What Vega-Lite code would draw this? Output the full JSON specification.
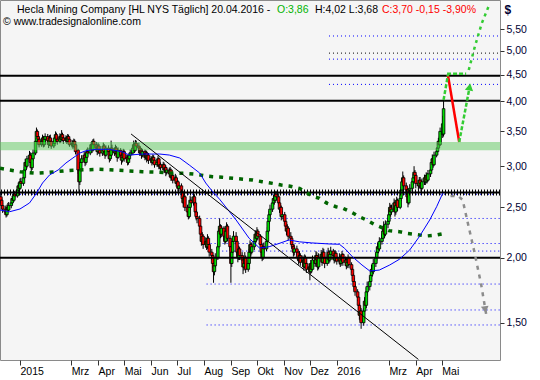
{
"$schema":"https://vega.github.io/schema/vega-lite/v6.json",
"width":500,"height":360,
"autosize":{"type":"none"},
"padding":{"left":0,"top":0,"right":40,"bottom":20},
"background":"white",
"config":{"view":{"fill":"#f5f5f5","stroke":"#8a8a8a","strokeWidth":1},"axis":{"labelOverlap":false,"labelSeparation":0},"scale":{"continuousPadding":0}},
"datasets":{
"k":[
{"d":"2014-12-10","o":2.62,"h":2.67,"l":2.55,"c":2.58},{"d":"2014-12-11","o":2.58,"h":2.61,"l":2.48,"c":2.52},{"d":"2014-12-12","o":2.52,"h":2.55,"l":2.44,"c":2.48},
{"d":"2014-12-15","o":2.48,"h":2.52,"l":2.42,"c":2.45},{"d":"2014-12-16","o":2.45,"h":2.48,"l":2.39,"c":2.42},{"d":"2014-12-17","o":2.42,"h":2.53,"l":2.40,"c":2.50},{"d":"2014-12-18","o":2.50,"h":2.55,"l":2.44,"c":2.47},{"d":"2014-12-19","o":2.47,"h":2.56,"l":2.45,"c":2.52},
{"d":"2014-12-22","o":2.52,"h":2.59,"l":2.49,"c":2.55},{"d":"2014-12-23","o":2.55,"h":2.63,"l":2.52,"c":2.60},{"d":"2014-12-24","o":2.60,"h":2.64,"l":2.55,"c":2.58},{"d":"2014-12-25","o":2.58,"h":2.68,"l":2.56,"c":2.65},{"d":"2014-12-26","o":2.65,"h":2.69,"l":2.60,"c":2.63},
{"d":"2014-12-29","o":2.63,"h":2.74,"l":2.61,"c":2.70},{"d":"2014-12-30","o":2.70,"h":2.79,"l":2.67,"c":2.75},{"d":"2014-12-31","o":2.75,"h":2.78,"l":2.68,"c":2.72},{"d":"2015-01-01","o":2.72,"h":2.84,"l":2.70,"c":2.80},{"d":"2015-01-02","o":2.80,"h":2.85,"l":2.74,"c":2.78},
{"d":"2015-01-05","o":2.78,"h":2.90,"l":2.75,"c":2.85},{"d":"2015-01-06","o":2.85,"h":2.99,"l":2.82,"c":2.95},{"d":"2015-01-07","o":2.95,"h":3.10,"l":2.92,"c":3.05},{"d":"2015-01-08","o":3.05,"h":3.09,"l":2.95,"c":3.00},{"d":"2015-01-09","o":3.00,"h":3.14,"l":2.97,"c":3.10},
{"d":"2015-01-12","o":3.10,"h":3.21,"l":3.06,"c":3.15},{"d":"2015-01-13","o":3.15,"h":3.19,"l":3.01,"c":3.05},{"d":"2015-01-14","o":3.05,"h":3.08,"l":2.92,"c":2.98},{"d":"2015-01-15","o":2.98,"h":3.14,"l":2.95,"c":3.10},{"d":"2015-01-16","o":3.10,"h":3.23,"l":3.07,"c":3.18},
{"d":"2015-01-19","o":3.18,"h":3.40,"l":3.15,"c":3.35},{"d":"2015-01-20","o":3.35,"h":3.56,"l":3.32,"c":3.50},{"d":"2015-01-21","o":3.50,"h":3.53,"l":3.38,"c":3.42},{"d":"2015-01-22","o":3.42,"h":3.47,"l":3.33,"c":3.38},{"d":"2015-01-23","o":3.38,"h":3.42,"l":3.26,"c":3.30},
{"d":"2015-01-26","o":3.30,"h":3.40,"l":3.27,"c":3.35},{"d":"2015-01-27","o":3.35,"h":3.45,"l":3.31,"c":3.40},{"d":"2015-01-28","o":3.40,"h":3.43,"l":3.26,"c":3.30},{"d":"2015-01-29","o":3.30,"h":3.42,"l":3.27,"c":3.38},{"d":"2015-01-30","o":3.38,"h":3.47,"l":3.34,"c":3.42},
{"d":"2015-02-02","o":3.42,"h":3.46,"l":3.32,"c":3.36},{"d":"2015-02-03","o":3.36,"h":3.39,"l":3.25,"c":3.30},{"d":"2015-02-04","o":3.30,"h":3.44,"l":3.28,"c":3.40},{"d":"2015-02-05","o":3.40,"h":3.45,"l":3.31,"c":3.35},{"d":"2015-02-06","o":3.35,"h":3.38,"l":3.24,"c":3.28},
{"d":"2015-02-09","o":3.28,"h":3.36,"l":3.25,"c":3.32},{"d":"2015-02-10","o":3.32,"h":3.44,"l":3.29,"c":3.40},{"d":"2015-02-11","o":3.40,"h":3.50,"l":3.37,"c":3.45},{"d":"2015-02-12","o":3.45,"h":3.48,"l":3.34,"c":3.38},{"d":"2015-02-13","o":3.38,"h":3.42,"l":3.30,"c":3.35},
{"d":"2015-02-16","o":3.35,"h":3.47,"l":3.32,"c":3.42},{"d":"2015-02-17","o":3.42,"h":3.46,"l":3.33,"c":3.38},{"d":"2015-02-18","o":3.38,"h":3.52,"l":3.36,"c":3.45},{"d":"2015-02-19","o":3.45,"h":3.48,"l":3.35,"c":3.40},{"d":"2015-02-20","o":3.40,"h":3.43,"l":3.31,"c":3.36},
{"d":"2015-02-23","o":3.36,"h":3.44,"l":3.33,"c":3.40},{"d":"2015-02-24","o":3.40,"h":3.43,"l":3.31,"c":3.35},{"d":"2015-02-25","o":3.35,"h":3.46,"l":3.33,"c":3.42},{"d":"2015-02-26","o":3.42,"h":3.45,"l":3.34,"c":3.38},{"d":"2015-02-27","o":3.38,"h":3.41,"l":3.27,"c":3.30},
{"d":"2015-03-02","o":3.30,"h":3.37,"l":3.26,"c":3.32},{"d":"2015-03-03","o":3.32,"h":3.36,"l":3.24,"c":3.28},{"d":"2015-03-04","o":3.28,"h":3.39,"l":3.26,"c":3.35},{"d":"2015-03-05","o":3.35,"h":3.38,"l":3.25,"c":3.30},{"d":"2015-03-06","o":3.30,"h":3.33,"l":3.16,"c":3.20},
{"d":"2015-03-09","o":3.22,"h":3.24,"l":2.90,"c":2.95},{"d":"2015-03-10","o":2.95,"h":2.98,"l":2.67,"c":2.80},{"d":"2015-03-11","o":2.80,"h":2.99,"l":2.76,"c":2.95},{"d":"2015-03-12","o":2.95,"h":3.10,"l":2.92,"c":3.05},{"d":"2015-03-13","o":3.05,"h":3.15,"l":3.00,"c":3.10},
{"d":"2015-03-16","o":3.10,"h":3.20,"l":3.06,"c":3.15},{"d":"2015-03-17","o":3.15,"h":3.18,"l":3.00,"c":3.05},{"d":"2015-03-18","o":3.05,"h":3.17,"l":3.02,"c":3.12},{"d":"2015-03-19","o":3.12,"h":3.24,"l":3.09,"c":3.20},{"d":"2015-03-20","o":3.20,"h":3.26,"l":3.14,"c":3.18},
{"d":"2015-03-23","o":3.18,"h":3.30,"l":3.15,"c":3.25},{"d":"2015-03-24","o":3.25,"h":3.34,"l":3.21,"c":3.30},{"d":"2015-03-25","o":3.30,"h":3.33,"l":3.18,"c":3.22},{"d":"2015-03-26","o":3.22,"h":3.38,"l":3.20,"c":3.35},{"d":"2015-03-27","o":3.35,"h":3.39,"l":3.26,"c":3.30},
{"d":"2015-03-30","o":3.30,"h":3.34,"l":3.21,"c":3.25},{"d":"2015-03-31","o":3.25,"h":3.29,"l":3.15,"c":3.20},{"d":"2015-04-01","o":3.20,"h":3.33,"l":3.17,"c":3.28},{"d":"2015-04-02","o":3.28,"h":3.31,"l":3.17,"c":3.22},{"d":"2015-04-03","o":3.22,"h":3.27,"l":3.13,"c":3.18},
{"d":"2015-04-06","o":3.18,"h":3.26,"l":3.14,"c":3.22},{"d":"2015-04-07","o":3.22,"h":3.33,"l":3.19,"c":3.28},{"d":"2015-04-08","o":3.28,"h":3.31,"l":3.16,"c":3.20},{"d":"2015-04-09","o":3.20,"h":3.23,"l":3.10,"c":3.15},{"d":"2015-04-10","o":3.15,"h":3.29,"l":3.13,"c":3.25},
{"d":"2015-04-13","o":3.25,"h":3.29,"l":3.16,"c":3.20},{"d":"2015-04-14","o":3.20,"h":3.23,"l":3.05,"c":3.10},{"d":"2015-04-15","o":3.10,"h":3.20,"l":3.07,"c":3.15},{"d":"2015-04-16","o":3.15,"h":3.36,"l":3.13,"c":3.25},{"d":"2015-04-17","o":3.25,"h":3.30,"l":3.17,"c":3.22},
{"d":"2015-04-20","o":3.22,"h":3.26,"l":3.14,"c":3.18},{"d":"2015-04-21","o":3.18,"h":3.30,"l":3.16,"c":3.25},{"d":"2015-04-22","o":3.25,"h":3.28,"l":3.15,"c":3.20},{"d":"2015-04-23","o":3.20,"h":3.23,"l":3.06,"c":3.12},{"d":"2015-04-24","o":3.12,"h":3.26,"l":3.10,"c":3.22},
{"d":"2015-04-27","o":3.22,"h":3.25,"l":3.11,"c":3.15},{"d":"2015-04-28","o":3.15,"h":3.18,"l":3.02,"c":3.08},{"d":"2015-04-29","o":3.08,"h":3.17,"l":3.05,"c":3.12},{"d":"2015-04-30","o":3.12,"h":3.24,"l":3.09,"c":3.20},{"d":"2015-05-01","o":3.20,"h":3.23,"l":3.06,"c":3.10},
{"d":"2015-05-04","o":3.10,"h":3.16,"l":3.06,"c":3.12},{"d":"2015-05-05","o":3.12,"h":3.15,"l":3.01,"c":3.05},{"d":"2015-05-06","o":3.05,"h":3.14,"l":3.02,"c":3.10},{"d":"2015-05-07","o":3.10,"h":3.19,"l":3.07,"c":3.15},{"d":"2015-05-08","o":3.15,"h":3.23,"l":3.12,"c":3.18},
{"d":"2015-05-11","o":3.18,"h":3.29,"l":3.15,"c":3.25},{"d":"2015-05-12","o":3.25,"h":3.36,"l":3.22,"c":3.30},{"d":"2015-05-13","o":3.30,"h":3.33,"l":3.18,"c":3.22},{"d":"2015-05-14","o":3.22,"h":3.37,"l":3.20,"c":3.32},{"d":"2015-05-15","o":3.32,"h":3.36,"l":3.24,"c":3.28},
{"d":"2015-05-18","o":3.28,"h":3.33,"l":3.21,"c":3.25},{"d":"2015-05-19","o":3.25,"h":3.28,"l":3.14,"c":3.18},{"d":"2015-05-20","o":3.18,"h":3.26,"l":3.15,"c":3.22},{"d":"2015-05-21","o":3.22,"h":3.25,"l":3.10,"c":3.15},{"d":"2015-05-22","o":3.15,"h":3.24,"l":3.12,"c":3.20},
{"d":"2015-05-25","o":3.20,"h":3.23,"l":3.08,"c":3.12},{"d":"2015-05-26","o":3.12,"h":3.22,"l":3.09,"c":3.18},{"d":"2015-05-27","o":3.18,"h":3.21,"l":3.05,"c":3.10},{"d":"2015-05-28","o":3.10,"h":3.19,"l":3.07,"c":3.15},{"d":"2015-05-29","o":3.15,"h":3.18,"l":3.03,"c":3.08},
{"d":"2015-06-01","o":3.08,"h":3.14,"l":3.04,"c":3.10},{"d":"2015-06-02","o":3.10,"h":3.13,"l":3.01,"c":3.05},{"d":"2015-06-03","o":3.05,"h":3.16,"l":3.03,"c":3.12},{"d":"2015-06-04","o":3.12,"h":3.15,"l":3.04,"c":3.08},{"d":"2015-06-05","o":3.08,"h":3.11,"l":2.98,"c":3.02},
{"d":"2015-06-08","o":3.02,"h":3.09,"l":2.99,"c":3.05},{"d":"2015-06-09","o":3.05,"h":3.14,"l":3.02,"c":3.10},{"d":"2015-06-10","o":3.10,"h":3.12,"l":2.96,"c":3.00},{"d":"2015-06-11","o":3.00,"h":3.06,"l":2.96,"c":3.02},{"d":"2015-06-12","o":3.02,"h":3.05,"l":2.94,"c":2.98},
{"d":"2015-06-15","o":2.98,"h":3.06,"l":2.95,"c":3.02},{"d":"2015-06-16","o":3.02,"h":3.05,"l":2.91,"c":2.95},{"d":"2015-06-17","o":2.95,"h":3.02,"l":2.92,"c":2.98},{"d":"2015-06-18","o":2.98,"h":3.01,"l":2.87,"c":2.92},{"d":"2015-06-19","o":2.92,"h":2.99,"l":2.89,"c":2.95},
{"d":"2015-06-22","o":2.95,"h":2.98,"l":2.86,"c":2.90},{"d":"2015-06-23","o":2.90,"h":2.99,"l":2.87,"c":2.95},{"d":"2015-06-24","o":2.95,"h":2.97,"l":2.81,"c":2.85},{"d":"2015-06-25","o":2.85,"h":2.92,"l":2.82,"c":2.88},{"d":"2015-06-26","o":2.88,"h":2.91,"l":2.78,"c":2.82},
{"d":"2015-06-29","o":2.82,"h":2.90,"l":2.79,"c":2.85},{"d":"2015-06-30","o":2.85,"h":2.88,"l":2.74,"c":2.78},{"d":"2015-07-01","o":2.78,"h":2.84,"l":2.75,"c":2.80},{"d":"2015-07-02","o":2.80,"h":2.82,"l":2.68,"c":2.72},{"d":"2015-07-03","o":2.72,"h":2.79,"l":2.69,"c":2.75},
{"d":"2015-07-06","o":2.75,"h":2.78,"l":2.64,"c":2.68},{"d":"2015-07-07","o":2.68,"h":2.71,"l":2.56,"c":2.60},{"d":"2015-07-08","o":2.60,"h":2.64,"l":2.50,"c":2.55},{"d":"2015-07-09","o":2.55,"h":2.66,"l":2.52,"c":2.62},{"d":"2015-07-10","o":2.62,"h":2.64,"l":2.46,"c":2.50},
{"d":"2015-07-13","o":2.50,"h":2.53,"l":2.41,"c":2.45},{"d":"2015-07-14","o":2.45,"h":2.48,"l":2.37,"c":2.40},{"d":"2015-07-15","o":2.40,"h":2.54,"l":2.38,"c":2.50},{"d":"2015-07-16","o":2.50,"h":2.63,"l":2.47,"c":2.58},{"d":"2015-07-17","o":2.58,"h":2.62,"l":2.51,"c":2.55},
{"d":"2015-07-20","o":2.55,"h":2.66,"l":2.52,"c":2.62},{"d":"2015-07-21","o":2.62,"h":2.65,"l":2.51,"c":2.55},{"d":"2015-07-22","o":2.55,"h":2.57,"l":2.41,"c":2.45},{"d":"2015-07-23","o":2.45,"h":2.48,"l":2.36,"c":2.40},{"d":"2015-07-24","o":2.40,"h":2.44,"l":2.33,"c":2.38},
{"d":"2015-07-27","o":2.38,"h":2.41,"l":2.26,"c":2.30},{"d":"2015-07-28","o":2.30,"h":2.33,"l":2.18,"c":2.22},{"d":"2015-07-29","o":2.22,"h":2.25,"l":2.11,"c":2.15},{"d":"2015-07-30","o":2.15,"h":2.24,"l":2.12,"c":2.20},{"d":"2015-07-31","o":2.20,"h":2.22,"l":2.08,"c":2.12},
{"d":"2015-08-03","o":2.12,"h":2.19,"l":2.09,"c":2.15},{"d":"2015-08-04","o":2.15,"h":2.18,"l":2.07,"c":2.10},{"d":"2015-08-05","o":2.10,"h":2.22,"l":2.08,"c":2.18},{"d":"2015-08-06","o":2.18,"h":2.20,"l":2.09,"c":2.12},{"d":"2015-08-07","o":2.12,"h":2.14,"l":2.01,"c":2.05},
{"d":"2015-08-10","o":2.05,"h":2.08,"l":1.98,"c":2.02},{"d":"2015-08-11","o":2.02,"h":2.04,"l":1.91,"c":1.95},{"d":"2015-08-12","o":1.95,"h":1.97,"l":1.79,"c":1.88},{"d":"2015-08-13","o":1.88,"h":1.96,"l":1.85,"c":1.93},{"d":"2015-08-14","o":1.93,"h":2.04,"l":1.91,"c":2.00},
{"d":"2015-08-17","o":2.00,"h":2.13,"l":1.98,"c":2.10},{"d":"2015-08-18","o":2.10,"h":2.28,"l":2.08,"c":2.25},{"d":"2015-08-19","o":2.25,"h":2.38,"l":2.22,"c":2.30},{"d":"2015-08-20","o":2.30,"h":2.32,"l":2.18,"c":2.22},{"d":"2015-08-21","o":2.22,"h":2.31,"l":2.19,"c":2.28},
{"d":"2015-08-24","o":2.28,"h":2.30,"l":2.16,"c":2.20},{"d":"2015-08-25","o":2.20,"h":2.23,"l":2.12,"c":2.15},{"d":"2015-08-26","o":2.15,"h":2.28,"l":2.13,"c":2.25},{"d":"2015-08-27","o":2.25,"h":2.34,"l":2.22,"c":2.30},{"d":"2015-08-28","o":2.30,"h":2.32,"l":2.15,"c":2.18},
{"d":"2015-08-31","o":2.18,"h":2.21,"l":2.06,"c":2.10},{"d":"2015-09-01","o":2.10,"h":2.12,"l":1.79,"c":1.95},{"d":"2015-09-02","o":1.95,"h":2.08,"l":1.92,"c":2.05},{"d":"2015-09-03","o":2.05,"h":2.19,"l":2.03,"c":2.15},{"d":"2015-09-04","o":2.15,"h":2.25,"l":2.12,"c":2.20},
{"d":"2015-09-07","o":2.20,"h":2.24,"l":2.12,"c":2.15},{"d":"2015-09-08","o":2.15,"h":2.17,"l":2.02,"c":2.05},{"d":"2015-09-09","o":2.05,"h":2.08,"l":1.96,"c":2.00},{"d":"2015-09-10","o":2.00,"h":2.11,"l":1.98,"c":2.08},{"d":"2015-09-11","o":2.08,"h":2.10,"l":1.98,"c":2.02},
{"d":"2015-09-14","o":2.02,"h":2.05,"l":1.95,"c":1.98},{"d":"2015-09-15","o":1.98,"h":2.00,"l":1.86,"c":1.92},{"d":"2015-09-16","o":1.92,"h":1.98,"l":1.89,"c":1.95},{"d":"2015-09-17","o":1.95,"h":2.05,"l":1.93,"c":2.00},{"d":"2015-09-18","o":2.00,"h":2.02,"l":1.87,"c":1.90},
{"d":"2015-09-21","o":1.90,"h":1.98,"l":1.88,"c":1.95},{"d":"2015-09-22","o":1.95,"h":2.08,"l":1.93,"c":2.05},{"d":"2015-09-23","o":2.05,"h":2.16,"l":2.02,"c":2.12},{"d":"2015-09-24","o":2.12,"h":2.14,"l":2.01,"c":2.05},{"d":"2015-09-25","o":2.05,"h":2.14,"l":2.03,"c":2.10},
{"d":"2015-09-28","o":2.10,"h":2.19,"l":2.07,"c":2.15},{"d":"2015-09-29","o":2.15,"h":2.26,"l":2.12,"c":2.22},{"d":"2015-09-30","o":2.22,"h":2.25,"l":2.14,"c":2.18},{"d":"2015-10-01","o":2.18,"h":2.29,"l":2.16,"c":2.25},{"d":"2015-10-02","o":2.25,"h":2.27,"l":2.16,"c":2.20},
{"d":"2015-10-05","o":2.20,"h":2.22,"l":2.09,"c":2.12},{"d":"2015-10-06","o":2.12,"h":2.15,"l":2.02,"c":2.05},{"d":"2015-10-07","o":2.05,"h":2.08,"l":1.97,"c":2.00},{"d":"2015-10-08","o":2.00,"h":2.13,"l":1.98,"c":2.10},{"d":"2015-10-09","o":2.10,"h":2.14,"l":2.04,"c":2.08},
{"d":"2015-10-12","o":2.08,"h":2.18,"l":2.06,"c":2.15},{"d":"2015-10-13","o":2.15,"h":2.29,"l":2.13,"c":2.25},{"d":"2015-10-14","o":2.25,"h":2.39,"l":2.22,"c":2.35},{"d":"2015-10-15","o":2.35,"h":2.46,"l":2.32,"c":2.42},{"d":"2015-10-16","o":2.42,"h":2.53,"l":2.39,"c":2.48},
{"d":"2015-10-19","o":2.48,"h":2.59,"l":2.45,"c":2.55},{"d":"2015-10-20","o":2.55,"h":2.64,"l":2.51,"c":2.60},{"d":"2015-10-21","o":2.60,"h":2.64,"l":2.53,"c":2.58},{"d":"2015-10-22","o":2.58,"h":2.68,"l":2.55,"c":2.65},{"d":"2015-10-23","o":2.65,"h":2.69,"l":2.57,"c":2.62},
{"d":"2015-10-26","o":2.62,"h":2.66,"l":2.52,"c":2.55},{"d":"2015-10-27","o":2.55,"h":2.58,"l":2.44,"c":2.48},{"d":"2015-10-28","o":2.48,"h":2.54,"l":2.45,"c":2.50},{"d":"2015-10-29","o":2.50,"h":2.52,"l":2.36,"c":2.40},{"d":"2015-10-30","o":2.40,"h":2.46,"l":2.37,"c":2.42},
{"d":"2015-11-02","o":2.42,"h":2.45,"l":2.32,"c":2.35},{"d":"2015-11-03","o":2.35,"h":2.38,"l":2.26,"c":2.30},{"d":"2015-11-04","o":2.30,"h":2.33,"l":2.21,"c":2.25},{"d":"2015-11-05","o":2.25,"h":2.32,"l":2.22,"c":2.28},{"d":"2015-11-06","o":2.28,"h":2.30,"l":2.16,"c":2.20},
{"d":"2015-11-09","o":2.20,"h":2.24,"l":2.14,"c":2.18},{"d":"2015-11-10","o":2.18,"h":2.20,"l":2.08,"c":2.12},{"d":"2015-11-11","o":2.12,"h":2.15,"l":2.06,"c":2.10},{"d":"2015-11-12","o":2.10,"h":2.12,"l":2.01,"c":2.05},{"d":"2015-11-13","o":2.05,"h":2.12,"l":2.02,"c":2.08},
{"d":"2015-11-16","o":2.08,"h":2.11,"l":2.02,"c":2.05},{"d":"2015-11-17","o":2.05,"h":2.07,"l":1.97,"c":2.00},{"d":"2015-11-18","o":2.00,"h":2.03,"l":1.94,"c":1.98},{"d":"2015-11-19","o":1.98,"h":2.06,"l":1.96,"c":2.02},{"d":"2015-11-20","o":2.02,"h":2.04,"l":1.93,"c":1.96},
{"d":"2015-11-23","o":1.96,"h":2.02,"l":1.93,"c":1.98},{"d":"2015-11-24","o":1.98,"h":2.00,"l":1.89,"c":1.92},{"d":"2015-11-25","o":1.92,"h":2.03,"l":1.91,"c":2.00},{"d":"2015-11-26","o":2.00,"h":2.02,"l":1.92,"c":1.95},{"d":"2015-11-27","o":1.95,"h":1.97,"l":1.87,"c":1.90},
{"d":"2015-11-30","o":1.90,"h":1.95,"l":1.87,"c":1.92},{"d":"2015-12-01","o":1.92,"h":1.94,"l":1.81,"c":1.88},{"d":"2015-12-02","o":1.88,"h":1.98,"l":1.86,"c":1.95},{"d":"2015-12-03","o":1.95,"h":1.97,"l":1.87,"c":1.90},{"d":"2015-12-04","o":1.90,"h":2.02,"l":1.89,"c":1.98},
{"d":"2015-12-07","o":1.98,"h":2.01,"l":1.92,"c":1.95},{"d":"2015-12-08","o":1.95,"h":2.06,"l":1.93,"c":2.02},{"d":"2015-12-09","o":2.02,"h":2.05,"l":1.95,"c":1.98},{"d":"2015-12-10","o":1.98,"h":2.00,"l":1.89,"c":1.92},{"d":"2015-12-11","o":1.92,"h":2.04,"l":1.90,"c":2.00},
{"d":"2015-12-14","o":2.00,"h":2.07,"l":1.97,"c":2.03},{"d":"2015-12-15","o":2.03,"h":2.05,"l":1.93,"c":1.96},{"d":"2015-12-16","o":1.96,"h":2.09,"l":1.95,"c":2.05},{"d":"2015-12-17","o":2.05,"h":2.08,"l":1.97,"c":2.00},{"d":"2015-12-18","o":2.00,"h":2.02,"l":1.91,"c":1.95},
{"d":"2015-12-21","o":1.95,"h":2.03,"l":1.93,"c":2.00},{"d":"2015-12-22","o":2.00,"h":2.09,"l":1.98,"c":2.05},{"d":"2015-12-23","o":2.05,"h":2.07,"l":1.95,"c":1.98},{"d":"2015-12-24","o":1.98,"h":2.06,"l":1.96,"c":2.03},{"d":"2015-12-25","o":2.03,"h":2.10,"l":2.00,"c":2.06},
{"d":"2015-12-28","o":2.06,"h":2.08,"l":1.99,"c":2.02},{"d":"2015-12-29","o":2.02,"h":2.04,"l":1.95,"c":1.98},{"d":"2015-12-30","o":1.98,"h":2.07,"l":1.96,"c":2.04},{"d":"2015-12-31","o":2.04,"h":2.06,"l":1.97,"c":2.00},{"d":"2016-01-01","o":2.00,"h":2.02,"l":1.94,"c":1.97},
{"d":"2016-01-04","o":1.97,"h":2.04,"l":1.94,"c":2.00},{"d":"2016-01-05","o":2.00,"h":2.02,"l":1.92,"c":1.95},{"d":"2016-01-06","o":1.95,"h":2.01,"l":1.93,"c":1.98},{"d":"2016-01-07","o":1.98,"h":2.06,"l":1.96,"c":2.03},{"d":"2016-01-08","o":2.03,"h":2.04,"l":1.93,"c":1.96},
{"d":"2016-01-11","o":1.96,"h":2.01,"l":1.93,"c":1.98},{"d":"2016-01-12","o":1.98,"h":2.00,"l":1.90,"c":1.93},{"d":"2016-01-13","o":1.93,"h":1.99,"l":1.91,"c":1.96},{"d":"2016-01-14","o":1.96,"h":2.03,"l":1.94,"c":2.00},{"d":"2016-01-15","o":2.00,"h":2.01,"l":1.91,"c":1.94},
{"d":"2016-01-18","o":1.94,"h":1.96,"l":1.87,"c":1.90},{"d":"2016-01-19","o":1.90,"h":1.92,"l":1.82,"c":1.85},{"d":"2016-01-20","o":1.85,"h":1.87,"l":1.76,"c":1.80},{"d":"2016-01-21","o":1.80,"h":1.83,"l":1.73,"c":1.76},{"d":"2016-01-22","o":1.76,"h":1.78,"l":1.69,"c":1.72},
{"d":"2016-01-25","o":1.72,"h":1.74,"l":1.65,"c":1.68},{"d":"2016-01-26","o":1.68,"h":1.70,"l":1.59,"c":1.62},{"d":"2016-01-27","o":1.62,"h":1.64,"l":1.52,"c":1.55},{"d":"2016-01-28","o":1.55,"h":1.61,"l":1.51,"c":1.58},{"d":"2016-01-29","o":1.58,"h":1.60,"l":1.46,"c":1.50},
{"d":"2016-02-01","o":1.50,"h":1.60,"l":1.48,"c":1.58},{"d":"2016-02-02","o":1.58,"h":1.68,"l":1.55,"c":1.65},{"d":"2016-02-03","o":1.65,"h":1.69,"l":1.59,"c":1.62},{"d":"2016-02-04","o":1.62,"h":1.75,"l":1.60,"c":1.72},{"d":"2016-02-05","o":1.72,"h":1.80,"l":1.69,"c":1.76},
{"d":"2016-02-08","o":1.76,"h":1.84,"l":1.73,"c":1.80},{"d":"2016-02-09","o":1.80,"h":1.89,"l":1.77,"c":1.85},{"d":"2016-02-10","o":1.85,"h":1.94,"l":1.82,"c":1.90},{"d":"2016-02-11","o":1.90,"h":1.93,"l":1.84,"c":1.88},{"d":"2016-02-12","o":1.88,"h":1.99,"l":1.86,"c":1.95},
{"d":"2016-02-15","o":1.95,"h":2.04,"l":1.92,"c":2.00},{"d":"2016-02-16","o":2.00,"h":2.09,"l":1.97,"c":2.05},{"d":"2016-02-17","o":2.05,"h":2.14,"l":2.02,"c":2.10},{"d":"2016-02-18","o":2.10,"h":2.13,"l":2.04,"c":2.08},{"d":"2016-02-19","o":2.08,"h":2.19,"l":2.06,"c":2.15},
{"d":"2016-02-22","o":2.15,"h":2.22,"l":2.12,"c":2.18},{"d":"2016-02-23","o":2.18,"h":2.29,"l":2.15,"c":2.25},{"d":"2016-02-24","o":2.25,"h":2.35,"l":2.22,"c":2.30},{"d":"2016-02-25","o":2.30,"h":2.32,"l":2.18,"c":2.22},{"d":"2016-02-26","o":2.22,"h":2.36,"l":2.20,"c":2.32},
{"d":"2016-02-29","o":2.32,"h":2.39,"l":2.28,"c":2.35},{"d":"2016-03-01","o":2.35,"h":2.47,"l":2.32,"c":2.42},{"d":"2016-03-02","o":2.42,"h":2.55,"l":2.39,"c":2.50},{"d":"2016-03-03","o":2.50,"h":2.53,"l":2.40,"c":2.45},{"d":"2016-03-04","o":2.45,"h":2.53,"l":2.42,"c":2.48},
{"d":"2016-03-07","o":2.48,"h":2.60,"l":2.45,"c":2.55},{"d":"2016-03-08","o":2.55,"h":2.58,"l":2.40,"c":2.45},{"d":"2016-03-09","o":2.45,"h":2.56,"l":2.42,"c":2.52},{"d":"2016-03-10","o":2.52,"h":2.62,"l":2.48,"c":2.58},{"d":"2016-03-11","o":2.58,"h":2.60,"l":2.46,"c":2.50},
{"d":"2016-03-14","o":2.50,"h":2.64,"l":2.48,"c":2.60},{"d":"2016-03-15","o":2.60,"h":2.74,"l":2.57,"c":2.70},{"d":"2016-03-16","o":2.70,"h":2.85,"l":2.67,"c":2.80},{"d":"2016-03-17","o":2.80,"h":2.93,"l":2.77,"c":2.85},{"d":"2016-03-18","o":2.85,"h":2.88,"l":2.70,"c":2.75},
{"d":"2016-03-21","o":2.75,"h":2.79,"l":2.66,"c":2.70},{"d":"2016-03-22","o":2.70,"h":2.73,"l":2.58,"c":2.62},{"d":"2016-03-23","o":2.62,"h":2.65,"l":2.50,"c":2.55},{"d":"2016-03-24","o":2.55,"h":2.72,"l":2.53,"c":2.68},{"d":"2016-03-25","o":2.68,"h":2.77,"l":2.64,"c":2.72},
{"d":"2016-03-28","o":2.72,"h":2.84,"l":2.69,"c":2.80},{"d":"2016-03-29","o":2.80,"h":2.90,"l":2.76,"c":2.85},{"d":"2016-03-30","o":2.85,"h":3.00,"l":2.82,"c":2.92},{"d":"2016-03-31","o":2.92,"h":2.95,"l":2.83,"c":2.88},{"d":"2016-04-01","o":2.88,"h":2.90,"l":2.72,"c":2.78},
{"d":"2016-04-04","o":2.78,"h":2.82,"l":2.70,"c":2.75},{"d":"2016-04-05","o":2.75,"h":2.86,"l":2.72,"c":2.82},{"d":"2016-04-06","o":2.82,"h":2.86,"l":2.74,"c":2.78},{"d":"2016-04-07","o":2.78,"h":2.81,"l":2.68,"c":2.72},{"d":"2016-04-08","o":2.72,"h":2.84,"l":2.70,"c":2.80},
{"d":"2016-04-11","o":2.80,"h":2.89,"l":2.76,"c":2.85},{"d":"2016-04-12","o":2.85,"h":2.88,"l":2.76,"c":2.80},{"d":"2016-04-13","o":2.80,"h":2.92,"l":2.78,"c":2.88},{"d":"2016-04-14","o":2.88,"h":2.91,"l":2.78,"c":2.82},{"d":"2016-04-15","o":2.82,"h":2.95,"l":2.80,"c":2.90},
{"d":"2016-04-18","o":2.90,"h":2.99,"l":2.86,"c":2.95},{"d":"2016-04-19","o":2.95,"h":3.10,"l":2.92,"c":3.05},{"d":"2016-04-20","o":3.05,"h":3.16,"l":3.01,"c":3.10},{"d":"2016-04-21","o":3.10,"h":3.13,"l":2.98,"c":3.02},{"d":"2016-04-22","o":3.02,"h":3.20,"l":3.00,"c":3.15},
{"d":"2016-04-25","o":3.15,"h":3.26,"l":3.12,"c":3.20},{"d":"2016-04-26","o":3.20,"h":3.32,"l":3.17,"c":3.25},{"d":"2016-04-27","o":3.25,"h":3.40,"l":3.22,"c":3.35},{"d":"2016-04-28","o":3.35,"h":3.42,"l":3.26,"c":3.30},{"d":"2016-04-29","o":3.30,"h":3.56,"l":3.28,"c":3.50},
{"d":"2016-05-02","o":3.45,"h":3.75,"l":3.40,"c":3.62},{"d":"2016-05-03","o":3.46,"h":4.02,"l":3.42,"c":3.87}
],
"ma50":[
{"d":"2014-12-09","p":2.471},{"d":"2014-12-20","p":2.452},{"d":"2015-01-01","p":2.482},{"d":"2015-01-12","p":2.549},{"d":"2015-01-20","p":2.661},{"d":"2015-01-27","p":2.785},{"d":"2015-02-04","p":2.885},{"d":"2015-02-14","p":2.950},{"d":"2015-02-23","p":3.043},{"d":"2015-03-03","p":3.111},{"d":"2015-03-11","p":3.180},{"d":"2015-03-18","p":3.213},{"d":"2015-03-30","p":3.233},{"d":"2015-04-14","p":3.233},{"d":"2015-04-29","p":3.195},{"d":"2015-05-07","p":3.152},{"d":"2015-05-22","p":3.166},{"d":"2015-06-11","p":3.166},{"d":"2015-06-22","p":3.152},{"d":"2015-07-04","p":3.111},{"d":"2015-07-15","p":3.016},{"d":"2015-07-27","p":2.911},{"d":"2015-08-03","p":2.785},{"d":"2015-08-11","p":2.679},{"d":"2015-08-19","p":2.591},{"d":"2015-09-07","p":2.364},{"d":"2015-09-22","p":2.180},{"d":"2015-10-04","p":2.088},{"d":"2015-10-15","p":2.100},{"d":"2015-10-27","p":2.132},{"d":"2015-11-07","p":2.164},{"d":"2015-11-19","p":2.146},{"d":"2015-12-03","p":2.136},{"d":"2015-12-23","p":2.126},{"d":"2016-01-04","p":2.123},{"d":"2016-01-10","p":2.085},{"d":"2016-01-19","p":2.009},{"d":"2016-01-30","p":1.937},{"d":"2016-02-08","p":1.886},{"d":"2016-02-19","p":1.894},{"d":"2016-03-02","p":1.937},{"d":"2016-03-13","p":1.986},{"d":"2016-03-25","p":2.070},{"d":"2016-04-05","p":2.195},{"d":"2016-04-17","p":2.364},{"d":"2016-04-25","p":2.507},{"d":"2016-05-02","p":2.661}
],
"ma200":[
{"d":"2014-12-09","p":2.972},{"d":"2014-12-20","p":2.950},{"d":"2015-01-01","p":2.928},{"d":"2015-01-12","p":2.915},{"d":"2015-01-20","p":2.907},{"d":"2015-01-31","p":2.915},{"d":"2015-02-12","p":2.928},{"d":"2015-02-23","p":2.941},{"d":"2015-03-11","p":2.950},{"d":"2015-03-22","p":2.954},{"d":"2015-04-02","p":2.959},{"d":"2015-04-14","p":2.953},{"d":"2015-05-03","p":2.941},{"d":"2015-05-22","p":2.928},{"d":"2015-06-11","p":2.920},{"d":"2015-06-30","p":2.907},{"d":"2015-07-11","p":2.907},{"d":"2015-07-23","p":2.894},{"d":"2015-08-01","p":2.876},{"d":"2015-08-11","p":2.864},{"d":"2015-08-22","p":2.856},{"d":"2015-09-26","p":2.822},{"d":"2015-10-07","p":2.801},{"d":"2015-10-19","p":2.780},{"d":"2015-10-29","p":2.760},{"d":"2015-11-07","p":2.748},{"d":"2015-11-19","p":2.719},{"d":"2015-11-27","p":2.671},{"d":"2015-12-03","p":2.629},{"d":"2015-12-12","p":2.603},{"d":"2015-12-21","p":2.545},{"d":"2015-12-31","p":2.507},{"d":"2016-01-08","p":2.490},{"d":"2016-01-19","p":2.441},{"d":"2016-01-27","p":2.399},{"d":"2016-02-04","p":2.364},{"d":"2016-02-13","p":2.319},{"d":"2016-02-22","p":2.285},{"d":"2016-03-01","p":2.255},{"d":"2016-03-13","p":2.245},{"d":"2016-03-22","p":2.227},{"d":"2016-04-01","p":2.217},{"d":"2016-04-13","p":2.202},{"d":"2016-04-25","p":2.212},{"d":"2016-05-04","p":2.227}
]
},
"layer":[
{"data":{"values":[{"p":5.34,"s":"2015-12-23"},{"p":4.82,"s":"2015-12-23"},{"p":4.31,"s":"2015-12-23"},{"p":2.65,"s":"2014-12-09"},{"p":2.38,"s":"2015-08-04"},{"p":2.13,"s":"2015-08-04"},{"p":2.06,"s":"2015-08-22"},{"p":1.78,"s":"2015-08-04"},{"p":1.587,"s":"2015-08-04"},{"p":1.485,"s":"2015-08-04"}]},
 "mark":{"type":"rule","color":"#0000ff","strokeWidth":1,"strokeDash":[1,3],"clip":true},
 "encoding":{
  "x":{"field":"s","type":"temporal","scale":{"domain":[{"year":2014,"month":12,"date":9},{"year":2016,"month":7,"date":7}],"padding":0},
   "axis":{"values":[{"year":2015,"month":1,"date":1},{"year":2015,"month":3,"date":1},{"year":2015,"month":4,"date":1},{"year":2015,"month":5,"date":1},{"year":2015,"month":6,"date":1},{"year":2015,"month":7,"date":1},{"year":2015,"month":8,"date":1},{"year":2015,"month":9,"date":1},{"year":2015,"month":10,"date":1},{"year":2015,"month":11,"date":1},{"year":2015,"month":12,"date":1},{"year":2016,"month":1,"date":1},{"year":2016,"month":3,"date":1},{"year":2016,"month":4,"date":1},{"year":2016,"month":5,"date":1}],
    "tickCount":40,
    "labelExpr":"month(datum.value)==0 ? timeFormat(datum.value,'%Y') : ['Jan','Feb','Mrz','Apr','Mai','Jun','Jul','Aug','Sep','Okt','Nov','Dez'][month(datum.value)]",
    "title":null,"domain":false,"grid":false,"tickSize":5,"tickColor":"#333","labelAlign":"left","labelBaseline":"top","labelDx":1,"labelPadding":1,"labelFont":"Liberation Sans","labelFontSize":10.5,"labelColor":"#000","labelOverlap":false,"labelSeparation":0,"labelFlush":false,"labelBound":false}},
  "x2":{"datum":{"year":2016,"month":7,"date":7}},
  "y":{"field":"p","type":"quantitative","scale":{"type":"log","domain":[1.2716,6.263],"nice":false,"zero":false,"padding":0},
   "axis":{"orient":"right","values":[1.5,2,2.5,3,3.5,4,4.5,5,5.5],"tickCount":20,"labelExpr":"replace(format(datum.value,'.2f'),'.',',')","title":"$","titleAngle":0,"titleAlign":"left","titleBaseline":"top","titleX":4,"titleY":4,"titleFont":"Liberation Sans","titleFontSize":12,"titleFontWeight":"bold","titleColor":"#000033","domain":false,"grid":false,"tickSize":4,"tickColor":"#333","labelPadding":2,"labelFont":"Liberation Sans","labelFontSize":10.5,"labelColor":"#000033"}}
 }},
{"data":{"values":[{"p":4.95,"s":"2015-12-23"}]},
 "mark":{"type":"rule","color":"#000","strokeWidth":1,"strokeDash":[1,3],"clip":true},
 "encoding":{"x":{"field":"s","type":"temporal","scale":{"domain":[{"year":2014,"month":12,"date":9},{"year":2016,"month":7,"date":7}],"padding":0}},"x2":{"datum":{"year":2016,"month":7,"date":7}},"y":{"field":"p","type":"quantitative","scale":{"type":"log","domain":[1.2716,6.263],"nice":false,"zero":false,"padding":0}}}},
{"data":{"name":"k"},
 "mark":{"type":"rule","color":"#000","strokeWidth":1},
 "encoding":{"x":{"field":"d","type":"temporal","scale":{"domain":[{"year":2014,"month":12,"date":9},{"year":2016,"month":7,"date":7}],"padding":0}},"y":{"field":"l","type":"quantitative","scale":{"type":"log","domain":[1.2716,6.263],"nice":false,"zero":false,"padding":0}},"y2":{"field":"h"}}},
{"data":{"name":"k"},
 "mark":{"type":"bar","size":2.6,"stroke":"#000","strokeWidth":0.8},
 "encoding":{"x":{"field":"d","type":"temporal","scale":{"domain":[{"year":2014,"month":12,"date":9},{"year":2016,"month":7,"date":7}],"padding":0}},"y":{"field":"o","type":"quantitative","scale":{"type":"log","domain":[1.2716,6.263],"nice":false,"zero":false,"padding":0}},"y2":{"field":"c"},
  "color":{"condition":{"test":"datum.c >= datum.o","value":"#00e000"},"value":"#ff0000"}}},
{"data":{"values":[{"lo":3.22,"hi":3.34}]},
 "mark":{"type":"rect","color":"#5cc85c","opacity":0.5},
 "encoding":{"x":{"datum":{"year":2014,"month":12,"date":9},"type":"temporal","scale":{"domain":[{"year":2014,"month":12,"date":9},{"year":2016,"month":7,"date":7}],"padding":0}},"x2":{"datum":{"year":2016,"month":7,"date":7}},"y":{"field":"lo","type":"quantitative","scale":{"type":"log","domain":[1.2716,6.263],"nice":false,"zero":false,"padding":0}},"y2":{"field":"hi"}}},
{"data":{"values":[{"p":4.48},{"p":4.01},{"p":2.0},{"p":2.67}]},
 "mark":{"type":"rule","color":"#000","strokeWidth":2},
 "encoding":{"y":{"field":"p","type":"quantitative","scale":{"type":"log","domain":[1.2716,6.263],"nice":false,"zero":false,"padding":0}}}},
{"data":{"values":[{"p":2.67}]},
 "mark":{"type":"rule","color":"#000","strokeWidth":6,"strokeDash":[1,2]},
 "encoding":{"y":{"field":"p","type":"quantitative","scale":{"type":"log","domain":[1.2716,6.263],"nice":false,"zero":false,"padding":0}}}},
{"data":{"name":"ma200"},
 "mark":{"type":"line","color":"#006400","strokeWidth":3.5,"strokeDash":[4,6],"clip":true},
 "encoding":{"x":{"field":"d","type":"temporal","scale":{"domain":[{"year":2014,"month":12,"date":9},{"year":2016,"month":7,"date":7}],"padding":0}},"y":{"field":"p","type":"quantitative","scale":{"type":"log","domain":[1.2716,6.263],"nice":false,"zero":false,"padding":0}}}},
{"data":{"name":"ma50"},
 "mark":{"type":"line","color":"#0000ff","strokeWidth":1,"clip":true},
 "encoding":{"x":{"field":"d","type":"temporal","scale":{"domain":[{"year":2014,"month":12,"date":9},{"year":2016,"month":7,"date":7}],"padding":0}},"y":{"field":"p","type":"quantitative","scale":{"type":"log","domain":[1.2716,6.263],"nice":false,"zero":false,"padding":0}}}},
{"data":{"values":[{"d":"2015-05-09","p":3.46},{"d":"2016-04-04","p":1.275}]},
 "mark":{"type":"line","color":"#000","strokeWidth":1,"clip":true},
 "encoding":{"x":{"field":"d","type":"temporal","scale":{"domain":[{"year":2014,"month":12,"date":9},{"year":2016,"month":7,"date":7}],"padding":0}},"y":{"field":"p","type":"quantitative","scale":{"type":"log","domain":[1.2716,6.263],"nice":false,"zero":false,"padding":0}}}},
{"data":{"values":[{"d":"2016-05-11","p":2.628},{"d":"2016-05-20","p":2.628},{"d":"2016-05-25","p":2.583},{"d":"2016-05-31","p":2.33},{"d":"2016-06-07","p":2.07},{"d":"2016-06-15","p":1.788},{"d":"2016-06-21","p":1.56}]},
 "mark":{"type":"line","color":"#8c8c8c","strokeWidth":2.5,"strokeDash":[4,5],"clip":true},
 "encoding":{"x":{"field":"d","type":"temporal","scale":{"domain":[{"year":2014,"month":12,"date":9},{"year":2016,"month":7,"date":7}],"padding":0}},"y":{"field":"p","type":"quantitative","scale":{"type":"log","domain":[1.2716,6.263],"nice":false,"zero":false,"padding":0}}}},
{"data":{"values":[{"d":"2016-05-08","p":4.493},{"d":"2016-05-21","p":3.339}]},
 "mark":{"type":"line","color":"#ff0000","strokeWidth":2.5,"clip":true},
 "encoding":{"x":{"field":"d","type":"temporal","scale":{"domain":[{"year":2014,"month":12,"date":9},{"year":2016,"month":7,"date":7}],"padding":0}},"y":{"field":"p","type":"quantitative","scale":{"type":"log","domain":[1.2716,6.263],"nice":false,"zero":false,"padding":0}}}},
{"data":{"values":[{"g":"a","d":"2016-05-03","p":4.022},{"g":"a","d":"2016-05-08","p":4.493},{"g":"b","d":"2016-05-07","p":4.52},{"g":"b","d":"2016-05-29","p":4.52},{"g":"c","d":"2016-05-21","p":3.339},{"g":"c","d":"2016-06-02","p":4.26}]},
 "mark":{"type":"line","color":"#33cc33","strokeWidth":2.5,"strokeDash":[4,2],"clip":true},
 "encoding":{"x":{"field":"d","type":"temporal","scale":{"domain":[{"year":2014,"month":12,"date":9},{"year":2016,"month":7,"date":7}],"padding":0}},"y":{"field":"p","type":"quantitative","scale":{"type":"log","domain":[1.2716,6.263],"nice":false,"zero":false,"padding":0}},"detail":{"field":"g"}}},
{"data":{"values":[{"d":"2016-06-01","p":4.593},{"d":"2016-06-08","p":5.093},{"d":"2016-06-16","p":5.649},{"d":"2016-06-25","p":6.152}]},
 "mark":{"type":"line","color":"#33cc33","strokeWidth":2.5,"strokeDash":[3,4],"clip":true},
 "encoding":{"x":{"field":"d","type":"temporal","scale":{"domain":[{"year":2014,"month":12,"date":9},{"year":2016,"month":7,"date":7}],"padding":0}},"y":{"field":"p","type":"quantitative","scale":{"type":"log","domain":[1.2716,6.263],"nice":false,"zero":false,"padding":0}}}},
{"data":{"values":[{"d":"2016-06-02","p":4.26}]},
 "mark":{"type":"point","shape":"triangle-up","angle":10,"size":70,"filled":true,"color":"#33cc33","opacity":1},
 "encoding":{"x":{"field":"d","type":"temporal","scale":{"domain":[{"year":2014,"month":12,"date":9},{"year":2016,"month":7,"date":7}],"padding":0}},"y":{"field":"p","type":"quantitative","scale":{"type":"log","domain":[1.2716,6.263],"nice":false,"zero":false,"padding":0}}}},
{"data":{"values":[{"d":"2016-06-20","p":1.59}]},
 "mark":{"type":"point","shape":"triangle-down","angle":-9,"size":60,"filled":true,"color":"#8c8c8c","opacity":1},
 "encoding":{"x":{"field":"d","type":"temporal","scale":{"domain":[{"year":2014,"month":12,"date":9},{"year":2016,"month":7,"date":7}],"padding":0}},"y":{"field":"p","type":"quantitative","scale":{"type":"log","domain":[1.2716,6.263],"nice":false,"zero":false,"padding":0}}}},
{"data":{"values":[{"t":"Hecla Mining Company [HL NYS  Täglich] 20.04.2016 -"}]},
 "mark":{"type":"text","align":"left","baseline":"alphabetic","dx":17,"dy":13,"font":"Liberation Sans","fontSize":10.5,"color":"#000"},
 "encoding":{"x":{"datum":{"year":2014,"month":12,"date":9},"type":"temporal","scale":{"domain":[{"year":2014,"month":12,"date":9},{"year":2016,"month":7,"date":7}],"padding":0}},"y":{"datum":6.263,"type":"quantitative","scale":{"type":"log","domain":[1.2716,6.263],"nice":false,"zero":false,"padding":0}},"text":{"field":"t"}}},
{"data":{"values":[{"t":"O:3,86"}]},
 "mark":{"type":"text","align":"left","baseline":"alphabetic","dx":277,"dy":13,"font":"Liberation Sans","fontSize":10.5,"color":"#00b400"},
 "encoding":{"x":{"datum":{"year":2014,"month":12,"date":9},"type":"temporal","scale":{"domain":[{"year":2014,"month":12,"date":9},{"year":2016,"month":7,"date":7}],"padding":0}},"y":{"datum":6.263,"type":"quantitative","scale":{"type":"log","domain":[1.2716,6.263],"nice":false,"zero":false,"padding":0}},"text":{"field":"t"}}},
{"data":{"values":[{"t":"H:4,02 L:3,68"}]},
 "mark":{"type":"text","align":"left","baseline":"alphabetic","dx":315,"dy":13,"font":"Liberation Sans","fontSize":10.5,"color":"#000"},
 "encoding":{"x":{"datum":{"year":2014,"month":12,"date":9},"type":"temporal","scale":{"domain":[{"year":2014,"month":12,"date":9},{"year":2016,"month":7,"date":7}],"padding":0}},"y":{"datum":6.263,"type":"quantitative","scale":{"type":"log","domain":[1.2716,6.263],"nice":false,"zero":false,"padding":0}},"text":{"field":"t"}}},
{"data":{"values":[{"t":"C:3,70 -0,15 -3,90%"}]},
 "mark":{"type":"text","align":"left","baseline":"alphabetic","dx":382,"dy":13,"font":"Liberation Sans","fontSize":10.5,"color":"#ff0000"},
 "encoding":{"x":{"datum":{"year":2014,"month":12,"date":9},"type":"temporal","scale":{"domain":[{"year":2014,"month":12,"date":9},{"year":2016,"month":7,"date":7}],"padding":0}},"y":{"datum":6.263,"type":"quantitative","scale":{"type":"log","domain":[1.2716,6.263],"nice":false,"zero":false,"padding":0}},"text":{"field":"t"}}},
{"data":{"values":[{"t":"© www.tradesignalonline.com"}]},
 "mark":{"type":"text","align":"left","baseline":"alphabetic","dx":3,"dy":25,"font":"Liberation Sans","fontSize":10.5,"color":"#000"},
 "encoding":{"x":{"datum":{"year":2014,"month":12,"date":9},"type":"temporal","scale":{"domain":[{"year":2014,"month":12,"date":9},{"year":2016,"month":7,"date":7}],"padding":0}},"y":{"datum":6.263,"type":"quantitative","scale":{"type":"log","domain":[1.2716,6.263],"nice":false,"zero":false,"padding":0}},"text":{"field":"t"}}}
]
}
